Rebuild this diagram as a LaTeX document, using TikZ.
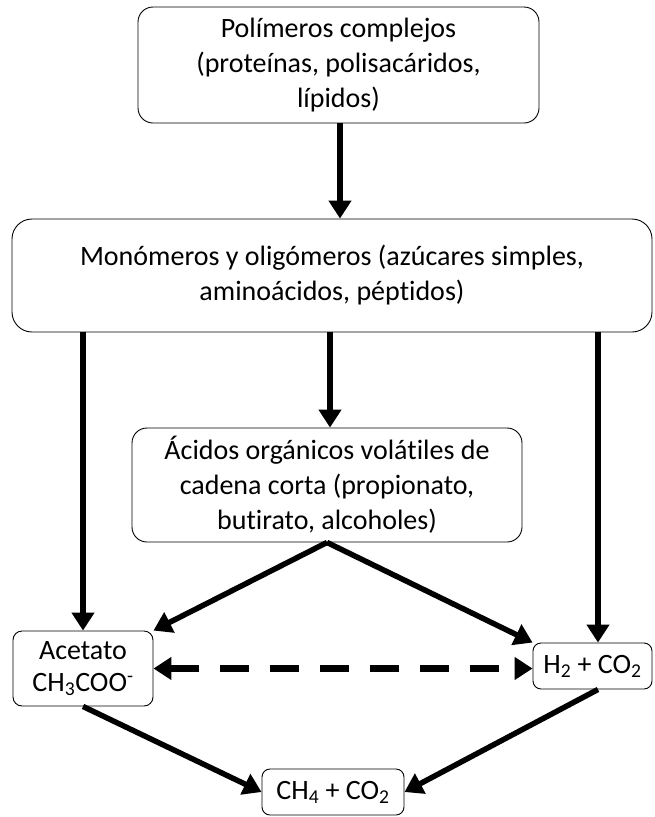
\documentclass[tikz,border=0pt]{standalone}
\usepackage{fontspec}
\setmainfont{Carlito}[Ligatures=NoCommon]
\usetikzlibrary{arrows.meta,calc}
\begin{document}
\begin{tikzpicture}[x=1pt,y=-1pt,
  box/.style={draw=black,line width=0.9pt,rounded corners=#1,align=center,inner sep=0pt,font=\fontsize{28}{35}\selectfont},
  box/.default=15pt,
  flow/.style={line width=5.5pt,-{Triangle[length=18pt,width=22pt]}},
  dflow/.style={line width=6.5pt,dash pattern=on 29pt off 21pt,{Triangle[length=18pt,width=22pt]}-{Triangle[length=18pt,width=22pt]}}
]
\useasboundingbox (0,0) rectangle (654,817);
\node[box, minimum width=401pt, minimum height=116pt] (b1) at (338.5,65) {Polímeros complejos\\(proteínas, polisacáridos,\\lípidos)};
\node[box=20pt, minimum width=640pt, minimum height=113pt] (b2) at (332,275.5) {Monómeros y oligómeros (azúcares simples,\\aminoácidos, péptidos)};
\node[box, minimum width=390pt, minimum height=114pt] (b3) at (327,485) {Ácidos orgánicos volátiles de\\cadena corta (propionato,\\butirato, alcoholes)};
\node[box=9pt, minimum width=140pt, minimum height=75pt, font=\fontsize{28}{32}\selectfont] (ac) at (83,668.5) {Acetato\\CH\textsubscript{3}COO\textsuperscript{-}};
\node[box=8pt, minimum width=119pt, minimum height=46pt] (h2) at (592.5,666) {H\textsubscript{2} + CO\textsubscript{2}};
\node[box=8pt, minimum width=142pt, minimum height=46pt] (ch) at (333,792) {CH\textsubscript{4} + CO\textsubscript{2}};
\coordinate (a1) at ([xshift=1.5pt]b1.south);
\draw[flow] (a1) -- (a1 |- b2.north);
\coordinate (a2) at ([xshift=3pt]b3.north);
\draw[flow] (a2 |- b2.south) -- (a2);
\draw[flow] (ac.north |- b2.south) -- (ac.north);
\coordinate (a3) at ([xshift=5.5pt]h2.north);
\draw[flow] (a3 |- b2.south) -- (a3);
\draw[flow] (b3.south) -- (ac.north east);
\draw[flow] (b3.south) -- (h2.north west);
\draw[flow] (ac.south) -- (ch.west);
\coordinate (a4) at ([xshift=5.5pt]h2.south);
\draw[flow] (a4) -- (ch.east);
\draw[dflow] (ac.east) -- (ac.east -| h2.west);
\end{tikzpicture}
\end{document}
